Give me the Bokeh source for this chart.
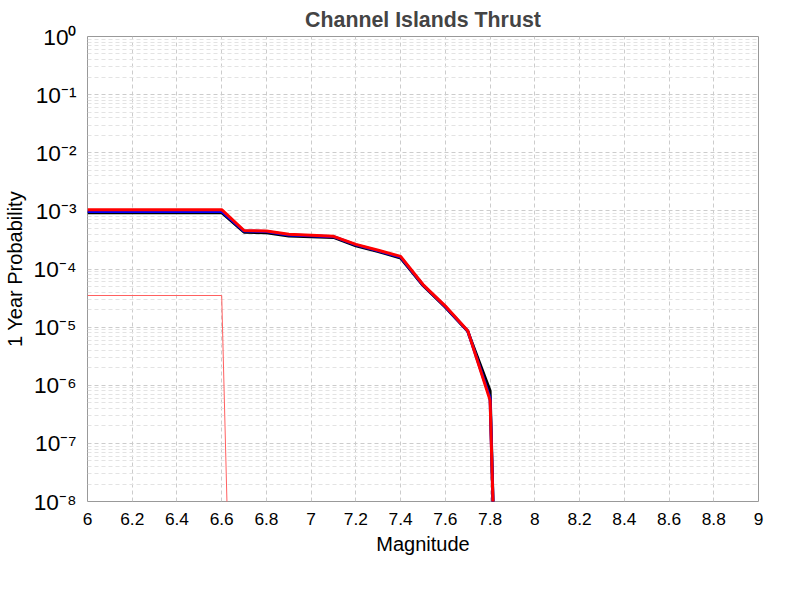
from bokeh.plotting import figure
from bokeh.models import Legend, CustomJSTickFormatter, FixedTicker
from bokeh.embed import file_html
from bokeh.resources import INLINE

mags = [6.0, 6.1, 6.2, 6.3, 6.4, 6.5, 6.6, 6.7, 6.8, 6.9, 7.0, 7.1, 7.2, 7.3, 7.4, 7.5, 7.6, 7.7, 7.8, 7.82]
ti = [9.3e-4] * 7 + [4.3e-4, 4.2e-4, 3.7e-4, 3.6e-4, 3.5e-4, 2.5e-4, 2.0e-4, 1.55e-4, 5.2e-5, 2.2e-5, 8.5e-6, 8.0e-7, 1e-9]
td = [9.8e-4] * 7 + [4.5e-4, 4.4e-4, 3.85e-4, 3.75e-4, 3.6e-4, 2.6e-4, 2.05e-4, 1.6e-4, 5.3e-5, 2.25e-5, 8.6e-6, 6.0e-7, 1e-9]
etas = [1.05e-3] * 7 + [4.6e-4, 4.5e-4, 3.95e-4, 3.8e-4, 3.65e-4, 2.65e-4, 2.1e-4, 1.65e-4, 5.4e-5, 2.3e-5, 8.7e-6, 5.5e-7, 1e-9]
trig_x = [6.0, 6.6, 6.63]
trig_y = [3.5e-5, 3.5e-5, 1e-9]

p = figure(frame_width=671, frame_height=465, x_range=(6, 9), y_range=(1e-8, 1), y_axis_type="log",
           title="Channel Islands Thrust", output_backend="svg", toolbar_location=None,
           min_border_left=20, min_border_right=18, min_border_top=5, min_border_bottom=5,
           outline_line_color="#999999")
p.title.align = "center"
p.title.text_font = "Liberation Sans"
p.title.text_font_size = "16pt"
p.title.text_font_style = "bold"

r1 = p.line(mags, ti, color="black", line_width=3)
r2 = p.line(mags, td, color="blue", line_width=3)
r3 = p.line(mags, etas, color="red", line_width=3)
r4 = p.line(trig_x, trig_y, color="#ff6060", line_width=1)

p.xaxis.ticker = FixedTicker(ticks=[6 + 0.2 * i for i in range(16)])
p.xaxis.formatter = CustomJSTickFormatter(code="return String(Math.round(tick*10)/10);")
p.yaxis.ticker = FixedTicker(ticks=[10.0 ** -i for i in range(9)],
                             minor_ticks=[k * 10.0 ** -i for i in range(1, 9) for k in range(2, 10)])
p.yaxis.formatter = CustomJSTickFormatter(code="""
const e = Math.round(Math.log10(tick));
const sup = {'-':'\\u207b','0':'\\u2070','1':'\\u00b9','2':'\\u00b2','3':'\\u00b3','4':'\\u2074','5':'\\u2075','6':'\\u2076','7':'\\u2077','8':'\\u2078','9':'\\u2079'};
return '10' + String(e).split('').map(c => sup[c]).join('');
""")
for ax in (p.xaxis, p.yaxis):
    ax.major_label_text_font = "Liberation Sans"
    ax.axis_label_text_font = "Liberation Sans"
    ax.axis_label_text_font_style = "normal"
    ax.axis_label_text_font_size = "15pt"
    ax.axis_line_color = None
    ax.major_tick_line_color = None
    ax.minor_tick_line_color = None
    ax.major_label_text_color = "black"
    ax.axis_label_text_color = "black"
p.xaxis.major_label_text_font_size = "13pt"
p.yaxis.major_label_text_font_size = "17pt"
p.xaxis.axis_label = "Magnitude"
p.yaxis.axis_label = "1 Year Probability"

p.grid.grid_line_color = "#cccccc"
p.grid.grid_line_dash = "4 3"
p.ygrid.minor_grid_line_color = "#e3e3e3"
p.ygrid.minor_grid_line_dash = "4 3"

legend = Legend(items=[("UCERF3-TI", [r1]), ("UCERF3-TD", [r2]),
                       ("UCERF3-ETAS", [r3]), ("ETAS Triggered Only", [r4])],
                orientation="horizontal", border_line_color=None,
                label_text_font="Liberation Sans", label_text_font_size="13pt",
                glyph_width=20, spacing=6, padding=2, margin=2)
p.add_layout(legend, "below")

open("out.html", "w").write(file_html(p, INLINE))
